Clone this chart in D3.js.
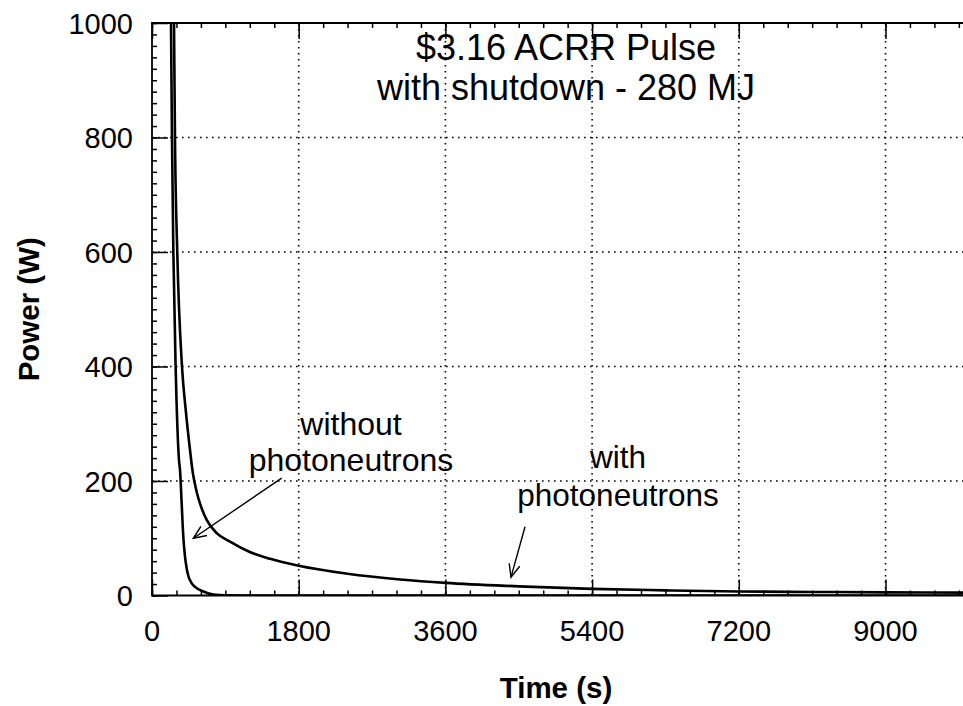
<!DOCTYPE html>
<html><head><meta charset="utf-8">
<script src="https://cdn.jsdelivr.net/npm/d3@7"></script>
<style>body{margin:0;background:#fff}svg{display:block}</style>
</head><body><svg id="c" width="963" height="706"></svg>
<script>
// ---- data ----
const xTicks = [0, 1800, 3600, 5400, 7200, 9000];
const yTicks = [0, 200, 400, 600, 800, 1000];
const timeWith  = [270, 282, 310, 368, 414, 460, 500, 550, 600, 671, 794, 957, 1200, 1450, 1800, 2400, 3044, 3600, 4500, 5400, 6300, 7200, 8100, 9000, 10000];
const powerWith = [1000, 800, 600, 400, 324, 262, 215, 180, 156, 132, 109, 94, 76, 64, 52, 38, 28, 22, 16, 11.5, 9, 7, 6.2, 5.5, 5];
const timeWithout  = [233, 245, 262, 290, 331, 344, 364, 384, 405, 425, 446, 480, 528, 630, 752, 900, 1200, 10000];
const powerWithout = [1000, 800, 600, 400, 237, 219, 161, 103, 68, 48, 34, 23, 15, 7, 1.5, 0.3, 0, 0];
const titleLines = ["$3.16 ACRR Pulse", "with shutdown - 280 MJ"];
const labelWithout = ["without", "photoneutrons"];
const labelWith = ["with", "photoneutrons"];
const xTitle = "Time (s)";
const yTitle = "Power (W)";

// ---- layout ----
const L = 152, T = 23, B = 595.5, R = 967;
const FONT = "'Liberation Sans', Arial, Helvetica, sans-serif";
const svg = d3.select("#c");
const x = d3.scaleLinear().domain([0, 10000]).range([L, R]);
const y = d3.scaleLinear().domain([0, 1000]).range([B, T]);

svg.append("defs").append("clipPath").attr("id", "clip")
  .append("rect").attr("x", L).attr("y", T).attr("width", R - L).attr("height", B - T);

// grid (dotted)
const grid = svg.append("g").attr("stroke", "#000").attr("stroke-width", 1.6)
  .attr("stroke-dasharray", "1.6 4.4").attr("fill", "none");
xTicks.filter(d => d > 0).forEach(d => grid.append("line")
  .attr("x1", x(d)).attr("x2", x(d)).attr("y1", T).attr("y2", B));
yTicks.filter(d => d > 0 && d < 1000).forEach(d => grid.append("line")
  .attr("x1", L).attr("x2", R).attr("y1", y(d)).attr("y2", y(d)));

// axes with inward ticks
const xMinor = d3.range(0, 10001, 300);
const yMinor = d3.range(0, 1001, 20);
function drawAxis(g, axis) { g.call(axis); g.select(".domain").remove(); g.selectAll("text").remove();
  g.selectAll("line").attr("stroke", "#000").attr("stroke-width", 1.5); }
svg.append("g").attr("transform", `translate(0,${B})`)
  .call(g => drawAxis(g, d3.axisBottom(x).tickValues(xMinor).tickSize(-5)));
svg.append("g").attr("transform", `translate(0,${B})`)
  .call(g => drawAxis(g, d3.axisBottom(x).tickValues(xTicks).tickSize(-16)));
svg.append("g").attr("transform", `translate(0,${T})`)
  .call(g => drawAxis(g, d3.axisTop(x).tickValues(xMinor).tickSize(-5)));
svg.append("g").attr("transform", `translate(0,${T})`)
  .call(g => drawAxis(g, d3.axisTop(x).tickValues(xTicks).tickSize(-16)));
svg.append("g").attr("transform", `translate(${L},0)`)
  .call(g => drawAxis(g, d3.axisLeft(y).tickValues(yMinor).tickSize(-5)));
svg.append("g").attr("transform", `translate(${L},0)`)
  .call(g => drawAxis(g, d3.axisLeft(y).tickValues(yTicks).tickSize(-16)));

// frame lines
svg.append("path").attr("d", `M${R},${T}H${L}V${B}H${R}`)
  .attr("fill", "none").attr("stroke", "#000").attr("stroke-width", 1.8);

// tick labels
svg.append("g").selectAll("text").data(xTicks).join("text")
  .attr("x", d => x(d)).attr("y", 641).attr("text-anchor", "middle")
  .attr("font-family", FONT).attr("font-size", 29).text(d => d);
svg.append("g").selectAll("text").data(yTicks).join("text")
  .attr("x", 133).attr("y", d => y(d) + 10.5).attr("text-anchor", "end")
  .attr("font-family", FONT).attr("font-size", 29).text(d => d);

// axis titles
svg.append("text").attr("x", 556).attr("y", 698).attr("text-anchor", "middle")
  .attr("font-family", FONT).attr("font-weight", "bold").attr("font-size", 29.5).text(xTitle);
svg.append("text").attr("transform", `translate(39,${(T + B) / 2}) rotate(-90)`)
  .attr("text-anchor", "middle").attr("font-family", FONT).attr("font-weight", "bold")
  .attr("font-size", 29.5).text(yTitle);

// curves
const line = d3.line().x(d => x(d[0])).y(d => y(d[1])).curve(d3.curveMonotoneX);
const curves = svg.append("g").attr("clip-path", "url(#clip)");
curves.append("path").datum(d3.zip(timeWithout, powerWithout)).attr("d", line)
  .attr("fill", "none").attr("stroke", "#000").attr("stroke-width", 2.6);
curves.append("path").datum(d3.zip(timeWith, powerWith)).attr("d", line)
  .attr("fill", "none").attr("stroke", "#000").attr("stroke-width", 2.6);

// title
svg.append("g").selectAll("text").data(titleLines).join("text")
  .attr("x", x(5080)).attr("y", (d, i) => y(935) + i * 40).attr("text-anchor", "middle")
  .attr("font-family", FONT).attr("font-size", 36).text(d => d);

// annotations
function label(lines, t, p, dy, fs) {
  svg.append("g").selectAll("text").data(lines).join("text")
    .attr("x", x(t)).attr("y", (d, i) => y(p) + i * dy).attr("text-anchor", "middle")
    .attr("font-family", FONT).attr("font-size", fs).text(d => d);
}
label(labelWithout, 2442, 280, 36, 32);
label(labelWith, 5718, 223, 38, 31.5);

function arrow(t0, p0, t1, p1) {
  const x0 = x(t0), y0 = y(p0), x1 = x(t1), y1 = y(p1);
  const a = Math.atan2(y0 - y1, x0 - x1), len = 14, sp = 0.4;
  const g = svg.append("g").attr("stroke", "#000").attr("stroke-width", 1.4).attr("fill", "none");
  g.append("line").attr("x1", x0).attr("y1", y0).attr("x2", x1).attr("y2", y1);
  g.append("path").attr("d",
    `M${x1 + len * Math.cos(a + sp)},${y1 + len * Math.sin(a + sp)}L${x1},${y1}L${x1 + len * Math.cos(a - sp)},${y1 + len * Math.sin(a - sp)}`);
}
arrow(1591, 205, 507, 100);
arrow(4577, 120, 4405, 32);
</script></body></html>
